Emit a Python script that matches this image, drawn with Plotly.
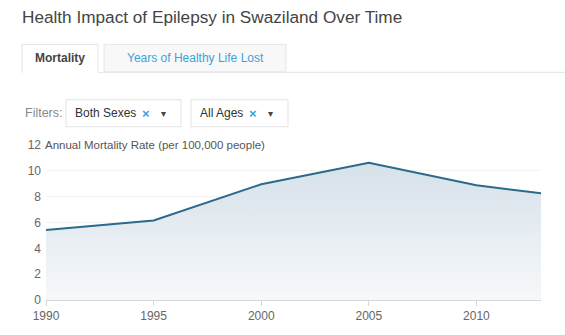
import plotly.graph_objects as go

years = [1990, 1995, 2000, 2005, 2010, 2013]
mortality = [5.41, 6.16, 8.96, 10.62, 8.88, 8.26]
y_ticks = [0, 2, 4, 6, 8, 10, 12]
x_ticks = [1990, 1995, 2000, 2005, 2010]

W, H = 565, 335
L, R, T, B = 46, 24, 145, 29
PW, PH = W - L - R, H - T - B

def px(x):
    return (x - L) / PW

def py(y):
    return (H - B - y) / PH

FONT = "Arial, Liberation Sans, sans-serif"

fig = go.Figure()
fig.add_trace(go.Scatter(
    x=years, y=mortality, mode="lines",
    line=dict(color="#2b6a8b", width=2),
    fill="tozeroy",
    fillgradient=dict(type="vertical",
                      colorscale=[[0, "#f6f8fa"], [1, "#d6e1e9"]]),
    hoverinfo="skip",
))

shapes = []
annotations = []

# Title
annotations.append(dict(x=px(20), y=py(12), xref="paper", yref="paper",
                        text="Health Impact of Epilepsy in Swaziland Over Time",
                        showarrow=False, xanchor="left", yanchor="middle",
                        font=dict(family=FONT, size=17.2, color="#444444")))

# Tabs
shapes.append(dict(type="line", xref="paper", yref="paper",
                   x0=px(98), x1=px(565), y0=py(69.5), y1=py(69.5),
                   line=dict(color="#e3e3e3", width=1)))
shapes.append(dict(type="rect", xref="paper", yref="paper",
                   x0=px(104), x1=px(286), y0=py(69), y1=py(40.5),
                   fillcolor="#f8f8f8", line=dict(color="#e6e6e6", width=1)))
# active tab: white with borders left/top/right
shapes.append(dict(type="rect", xref="paper", yref="paper",
                   x0=px(22), x1=px(98), y0=py(70), y1=py(40.5),
                   fillcolor="#ffffff", line=dict(color="#e6e6e6", width=1)))
shapes.append(dict(type="line", xref="paper", yref="paper",
                   x0=px(22.5), x1=px(97.5), y0=py(70), y1=py(70),
                   line=dict(color="#ffffff", width=2)))
annotations.append(dict(x=px(60), y=py(55), xref="paper", yref="paper",
                        text="<b>Mortality</b>", showarrow=False,
                        xanchor="center", yanchor="middle",
                        font=dict(family=FONT, size=12, color="#444444")))
annotations.append(dict(x=px(195), y=py(55), xref="paper", yref="paper",
                        text="Years of Healthy Life Lost", showarrow=False,
                        xanchor="center", yanchor="middle",
                        font=dict(family=FONT, size=12, color="#3aa3dc")))

# Filters
annotations.append(dict(x=px(23), y=py(112), xref="paper", yref="paper",
                        text="Filters:", showarrow=False,
                        xanchor="left", yanchor="middle",
                        font=dict(family=FONT, size=12.5, color="#888888")))
for x0, x1, label, xx in [(66, 181, "Both Sexes", 146), (191, 288, "All Ages", 253)]:
    shapes.append(dict(type="rect", xref="paper", yref="paper",
                       x0=px(x0), x1=px(x1), y0=py(126), y1=py(98),
                       fillcolor="#ffffff", line=dict(color="#e2e2e2", width=1)))
    annotations.append(dict(x=px(x0 + 7), y=py(112), xref="paper", yref="paper",
                            text=label, showarrow=False,
                            xanchor="left", yanchor="middle",
                            font=dict(family=FONT, size=12, color="#333333")))
    annotations.append(dict(x=px(xx), y=py(112), xref="paper", yref="paper",
                            text="<b>×</b>", showarrow=False,
                            xanchor="center", yanchor="middle",
                            font=dict(family=FONT, size=13, color="#3aa3dc")))
    annotations.append(dict(x=px(xx + 17), y=py(112), xref="paper", yref="paper",
                            text="▾", showarrow=False,
                            xanchor="center", yanchor="middle",
                            font=dict(family="DejaVu Sans", size=10, color="#444444")))

# Axis title
annotations.append(dict(x=px(43), y=py(145), xref="paper", yref="paper",
                        text="Annual Mortality Rate (per 100,000 people)",
                        showarrow=False, xanchor="left", yanchor="middle",
                        font=dict(family=FONT, size=11.5, color="#555555")))

fig.update_layout(
    width=W, height=H,
    margin=dict(l=L, r=R, t=T, b=B, pad=0),
    paper_bgcolor="#ffffff", plot_bgcolor="#ffffff",
    showlegend=False,
    font=dict(family=FONT, size=12, color="#666666"),
    shapes=shapes, annotations=annotations,
    xaxis=dict(range=[1990, 2013], tickvals=x_ticks,
               ticktext=[str(v) for v in x_ticks],
               showgrid=False, zeroline=False,
               showline=True, linecolor="#d8d8d8", linewidth=1,
               ticks="outside", ticklen=5, tickcolor="#d8d8d8",
               tickfont=dict(family=FONT, size=12, color="#666666")),
    yaxis=dict(range=[0, 12], tickvals=y_ticks,
               ticktext=[str(v) for v in y_ticks],
               showgrid=True, gridcolor="#f4f4f4", zeroline=False,
               showline=False, ticks="", ticklabelstandoff=4,
               tickfont=dict(family=FONT, size=12, color="#666666")),
)

fig.write_html("out.html")
